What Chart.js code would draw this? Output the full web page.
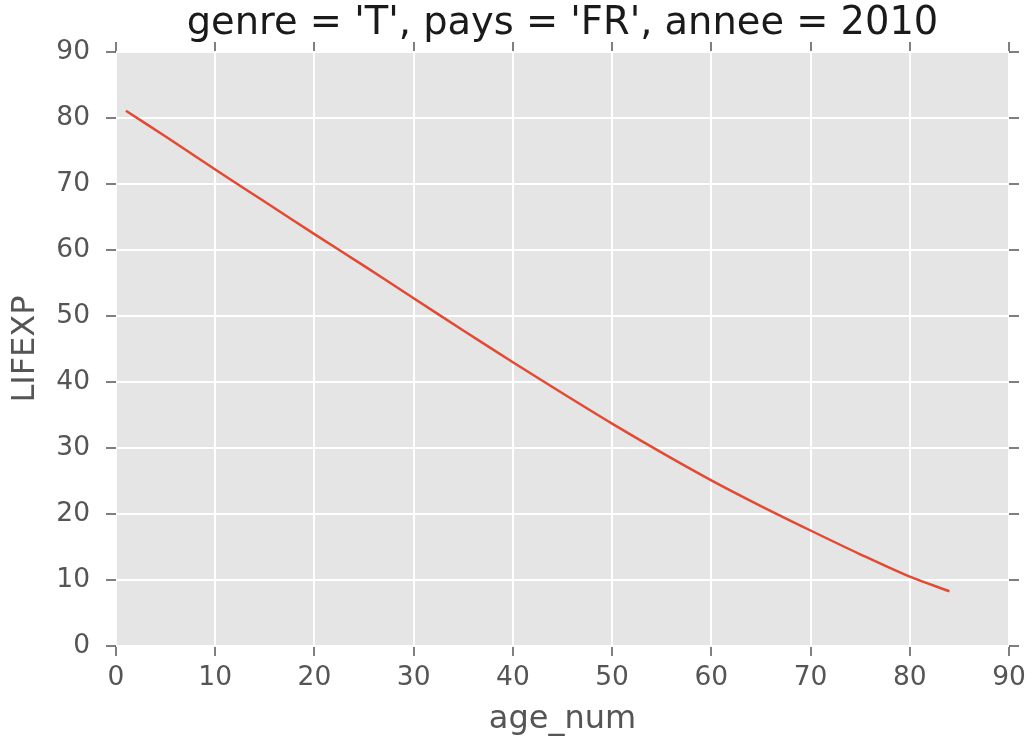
<!DOCTYPE html>
<html>
<head>
<meta charset="utf-8">
<script src="https://cdn.jsdelivr.net/npm/chart.js@4"></script>
<style>
  html, body { margin: 0; padding: 0; background: #fff; }
  #wrap { width: 1026px; height: 744px; }
</style>
</head>
<body>
<div id="wrap"><canvas id="chart" width="1026" height="744"></canvas></div>
<script>
// valeurs
const ages = [1, 5, 10, 15, 20, 25, 30, 35, 40, 45, 50, 55, 60, 65, 70, 75, 80, 84];
const lifexp = [81.1, 77.2, 72.2, 67.3, 62.4, 57.6, 52.7, 47.8, 43.0, 38.3, 33.7, 29.3, 25.1, 21.2, 17.5, 13.9, 10.5, 8.3];
const xTicks = [0, 10, 20, 30, 40, 50, 60, 70, 80, 90];
const yTicks = [0, 10, 20, 30, 40, 50, 60, 70, 80, 90];

const titre = "genre = 'T', pays = 'FR', annee = 2010";
const FONT = "'DejaVu Sans', sans-serif";

// fond gris de la zone de tracé
const fondGris = {
  id: 'fondGris',
  beforeDraw(chart) {
    const { ctx, chartArea: a } = chart;
    ctx.save();
    ctx.fillStyle = '#E5E5E5';
    ctx.fillRect(a.left, a.top, a.right - a.left, a.bottom - a.top);
    ctx.restore();
  }
};

const gridStyle = {
  color: '#ffffff',
  lineWidth: 2,
  tickColor: '#555555',
  tickWidth: 1.5,
  tickLength: 10
};

// pas de marge automatique pour les libellés qui débordent
const sansMarge = s => { s.paddingLeft = 0; s.paddingRight = 0; s.paddingTop = 0; s.paddingBottom = 0; };

const ctx = document.getElementById('chart').getContext('2d');
new Chart(ctx, {
  type: 'line',
  data: {
    datasets: [{
      label: 'LIFEXP',
      data: ages.map((a, i) => ({ x: a, y: lifexp[i] })),
      borderColor: '#E24A33',
      borderWidth: 2.5,
      pointRadius: 0,
      tension: 0.3,
      fill: false
    }]
  },
  options: {
    responsive: false,
    animation: false,
    layout: { padding: 0 },
    plugins: {
      legend: { display: false },
      tooltip: { enabled: false },
      title: { display: false }
    },
    scales: {
      x: {
        type: 'linear',
        position: 'bottom',
        min: 0, max: 90,
        afterBuildTicks: s => { s.ticks = xTicks.map(v => ({ value: v })); },
        afterFit: s => { s.height = 98; sansMarge(s); },
        border: { display: false },
        grid: gridStyle,
        ticks: { color: '#555555', padding: 6, font: { family: FONT, size: 26.5 } },
        title: {
          display: true, text: 'age_num', color: '#555555',
          font: { family: FONT, size: 32, lineHeight: 1.2 },
          padding: { top: 0, bottom: 5 }
        }
      },
      xTop: {
        type: 'linear',
        position: 'top',
        min: 0, max: 90,
        afterBuildTicks: s => { s.ticks = xTicks.map(v => ({ value: v })); },
        afterFit: s => { s.height = 52; sansMarge(s); },
        border: { display: false },
        grid: { ...gridStyle, drawOnChartArea: false },
        ticks: { display: false },
        title: {
          display: true, text: titre, color: '#1a1a1a',
          font: { family: FONT, size: 38.4, lineHeight: 1 },
          padding: { top: 5, bottom: 0 }
        }
      },
      y: {
        type: 'linear',
        position: 'left',
        min: 0, max: 90,
        afterBuildTicks: s => { s.ticks = yTicks.map(v => ({ value: v })); },
        afterFit: s => { s.width = 116; sansMarge(s); },
        border: { display: false },
        grid: gridStyle,
        ticks: { color: '#555555', padding: 16, font: { family: FONT, size: 26.5 } },
        title: {
          display: true, text: 'LIFEXP', color: '#555555',
          font: { family: FONT, size: 32, lineHeight: 1.2 },
          padding: { top: 6, bottom: 0 }
        }
      },
      yRight: {
        type: 'linear',
        position: 'right',
        min: 0, max: 90,
        afterBuildTicks: s => { s.ticks = yTicks.map(v => ({ value: v })); },
        afterFit: s => { s.width = 17; sansMarge(s); },
        border: { display: false },
        grid: { ...gridStyle, drawOnChartArea: false },
        ticks: { display: false }
      }
    }
  },
  plugins: [fondGris]
});
</script>
</body>
</html>
